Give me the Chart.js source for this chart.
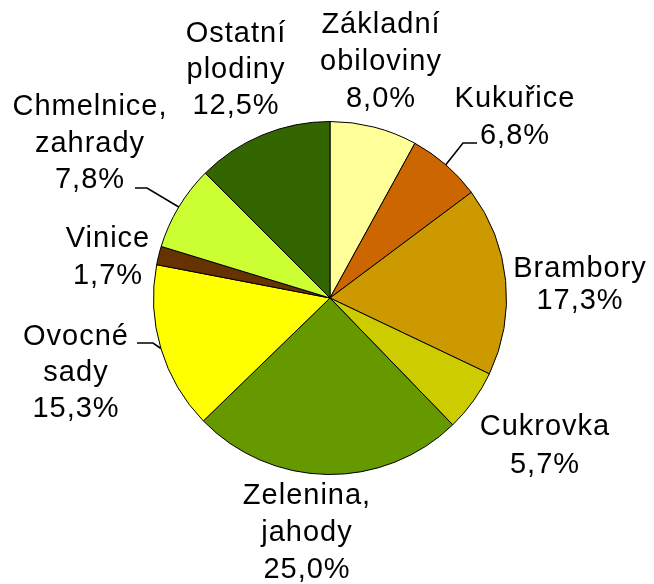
<!DOCTYPE html>
<html>
<head>
<meta charset="utf-8">
<script src="https://cdn.jsdelivr.net/npm/chart.js@4"></script>
<style>
  html, body { margin: 0; padding: 0; background: #fff; }
  #wrap { width: 654px; height: 584px; }
</style>
</head>
<body>
<div id="wrap"><canvas id="pie"></canvas></div>
<script>
// Data
const categories = [
  ["Základní", "obiloviny"],
  ["Kukuřice"],
  ["Brambory"],
  ["Cukrovka"],
  ["Zelenina,", "jahody"],
  ["Ovocné", "sady"],
  ["Vinice"],
  ["Chmelnice,", "zahrady"],
  ["Ostatní", "plodiny"],
]
const shares = [8.0, 6.8, 17.3, 5.7, 25.0, 15.3, 1.7, 7.8, 12.5]

const sliceColors = ["#FFFF99", "#CC6600", "#CC9900", "#CCCC00", "#669900", "#FFFF00", "#663300", "#CCFF33", "#336600"]

// Label placement, offsets from the pie centre: [dx, first baseline dy, line height]
const labelLayout = [
  [51, -265, 37],
  [185, -191, 37],
  [250, -21, 32],
  [215, 137, 38],
  [-23, 206, 37],
  [-254, 47, 36],
  [-222, -51, 37],
  [-240, -183, 36.5],
  [-94, -256, 36],
]
// Leader lines (elbow, end) for labels that sit away from their slice
const leaders = {
  1: [133, -155, 147, -155],
  5: [-177, 45, -193, 45],
  7: [-183, -110, -195, -110],
}

const formatShare = (v) => v.toFixed(1).replace(".", ",") + "%"

const outsideLabels = {
  id: "outsideLabels",
  afterDatasetsDraw(chart) {
    const ctx = chart.ctx
    const arcs = chart.getDatasetMeta(0).data
    ctx.save()
    ctx.fillStyle = "#000"
    ctx.strokeStyle = "#000"
    ctx.lineWidth = 1.6
    ctx.font = "29px 'Liberation Sans', Arial, sans-serif"
    ctx.textAlign = "center"
    ctx.textBaseline = "alphabetic"
    if ("letterSpacing" in ctx) ctx.letterSpacing = "1px"

    arcs.forEach((arc, i) => {
      const { x, y, startAngle, endAngle, outerRadius } = arc.getProps(["x", "y", "startAngle", "endAngle", "outerRadius"])
      const [dx, dy, lh] = labelLayout[i]
      const lines = [...categories[i], formatShare(shares[i])]
      lines.forEach((t, k) => {
        ctx.fillText(t, x + dx, y + dy + k * lh)
      })

      if (leaders[i]) {
        const mid = (startAngle + endAngle) / 2
        const [ex, ey, tx, ty] = leaders[i]
        ctx.beginPath()
        ctx.moveTo(x + outerRadius * Math.cos(mid), y + outerRadius * Math.sin(mid))
        ctx.lineTo(x + ex, y + ey)
        ctx.lineTo(x + tx, y + ty)
        ctx.stroke()
      }
    })
    ctx.restore()
  },
}

const pieCtx = document.getElementById("pie").getContext("2d")
const pieChart = new Chart(pieCtx, {
  type: "pie",
  data: {
    labels: categories.map((c) => c.join(" ")),
    datasets: [
      {
        data: shares,
        backgroundColor: sliceColors,
        borderColor: "#000",
        borderWidth: 1,
      },
    ],
  },
  options: {
    responsive: true,
    maintainAspectRatio: false,
    animation: false,
    layout: {
      padding: { top: 121, bottom: 109, left: 153, right: 147 },
    },
    plugins: {
      legend: { display: false },
      tooltip: { enabled: false },
    },
  },
  plugins: [outsideLabels],
})
</script>
</body>
</html>
